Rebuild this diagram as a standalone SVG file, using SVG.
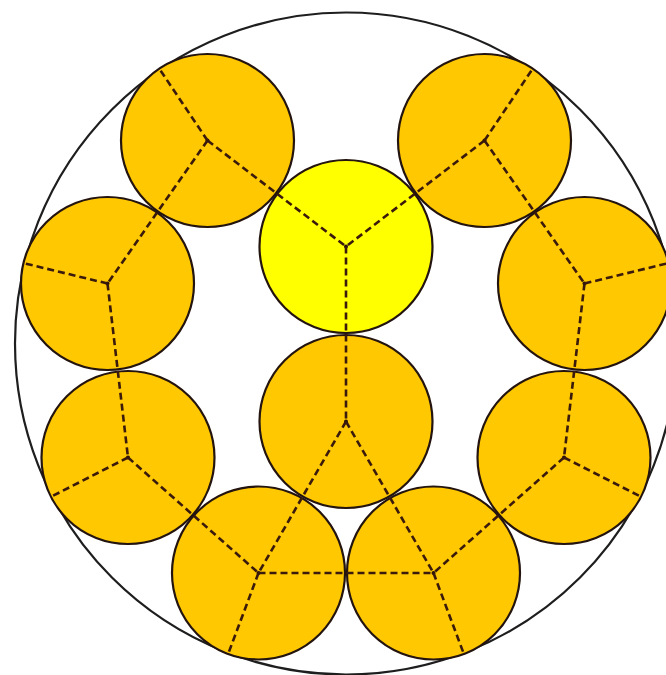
<svg xmlns="http://www.w3.org/2000/svg" width="666" height="675" viewBox="0 0 666 675">
<style>
.outer{fill:none;stroke:#1e1e1e;stroke-width:2.2}
.ball{fill:#FFC800;stroke:#24140f;stroke-width:2.2}
.core{fill:#FFFF00;stroke:#24140f;stroke-width:2.2}
.dot{fill:#2a1208}
.conn line{stroke:#3a1a0c;stroke-width:2.6;stroke-dasharray:7 4;fill:none}
</style>
<rect width="666" height="675" fill="#ffffff"/>
<circle id="outer" class="outer" cx="346" cy="343.5" r="331"/>
<g id="n-tl"><circle class="ball" cx="207.5" cy="140.5" r="86.5"/><circle class="dot" cx="207.5" cy="140.5" r="2"/></g>
<g id="n-tr"><circle class="ball" cx="484.5" cy="140.5" r="86.5"/><circle class="dot" cx="484.5" cy="140.5" r="2"/></g>
<g id="n-core"><circle class="core" cx="346" cy="246.5" r="86.5"/><circle class="dot" cx="346" cy="246.5" r="2"/></g>
<g id="n-lu"><circle class="ball" cx="107.5" cy="283.5" r="86.5"/><circle class="dot" cx="107.5" cy="283.5" r="2"/></g>
<g id="n-ru"><circle class="ball" cx="584.5" cy="283.5" r="86.5"/><circle class="dot" cx="584.5" cy="283.5" r="2"/></g>
<g id="n-mid"><circle class="ball" cx="346" cy="421.5" r="86.5"/><circle class="dot" cx="346" cy="421.5" r="2"/></g>
<g id="n-ll"><circle class="ball" cx="128" cy="457.5" r="86.5"/><circle class="dot" cx="128" cy="457.5" r="2"/></g>
<g id="n-rl"><circle class="ball" cx="564" cy="457.5" r="86.5"/><circle class="dot" cx="564" cy="457.5" r="2"/></g>
<g id="n-bl"><circle class="ball" cx="258.5" cy="573" r="86.5"/><circle class="dot" cx="258.5" cy="573" r="2"/></g>
<g id="n-br"><circle class="ball" cx="433.5" cy="573" r="86.5"/><circle class="dot" cx="433.5" cy="573" r="2"/></g>
<g id="connectors" class="conn">
<line x1="207.5" y1="140.5" x2="346" y2="246.5"/>
<line x1="484.5" y1="140.5" x2="346" y2="246.5"/>
<line x1="346" y1="246.5" x2="346" y2="421.5"/>
<line x1="207.5" y1="140.5" x2="107.5" y2="283.5"/>
<line x1="484.5" y1="140.5" x2="584.5" y2="283.5"/>
<line x1="107.5" y1="283.5" x2="128" y2="457.5"/>
<line x1="584.5" y1="283.5" x2="564" y2="457.5"/>
<line x1="128" y1="457.5" x2="258.5" y2="573"/>
<line x1="564" y1="457.5" x2="433.5" y2="573"/>
<line x1="258.5" y1="573" x2="433.5" y2="573"/>
<line x1="346" y1="421.5" x2="258.5" y2="573"/>
<line x1="346" y1="421.5" x2="433.5" y2="573"/>
<line x1="207.5" y1="140.5" x2="159.5" y2="69"/>
<line x1="484.5" y1="140.5" x2="532.5" y2="69"/>
<line x1="107.5" y1="283.5" x2="23" y2="263"/>
<line x1="584.5" y1="283.5" x2="669" y2="263"/>
<line x1="128" y1="457.5" x2="51.5" y2="496.5"/>
<line x1="564" y1="457.5" x2="640.5" y2="496.5"/>
<line x1="258.5" y1="573" x2="228.5" y2="653"/>
<line x1="433.5" y1="573" x2="463.5" y2="653"/>
</g>
</svg>
